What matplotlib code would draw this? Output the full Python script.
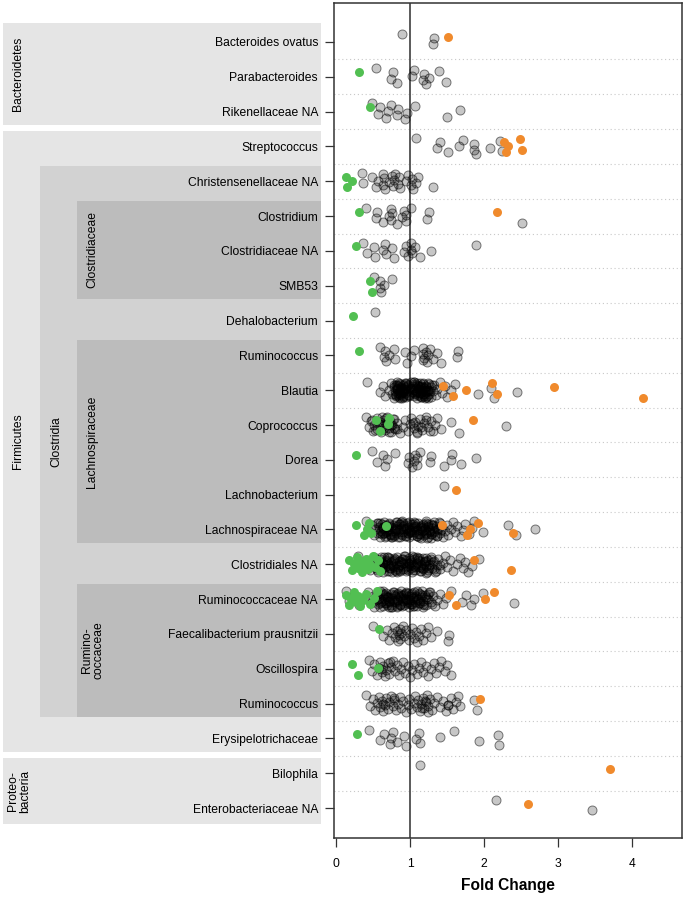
import matplotlib
matplotlib.use("Agg")
import matplotlib.pyplot as plt
import matplotlib.transforms as mtransforms
from matplotlib.patches import Rectangle

plt.rcParams['font.family'] = ['Liberation Sans', 'DejaVu Sans']

# rows, top to bottom
taxa = ["Bacteroides ovatus", "Parabacteroides", "Rikenellaceae NA",
        "Streptococcus", "Christensenellaceae NA", "Clostridium",
        "Clostridiaceae NA", "SMB53", "Dehalobacterium", "Ruminococcus",
        "Blautia", "Coprococcus", "Dorea", "Lachnobacterium",
        "Lachnospiraceae NA", "Clostridiales NA", "Ruminococcaceae NA",
        "Faecalibacterium prausnitzii", "Oscillospira", "Ruminococcus",
        "Erysipelotrichaceae", "Bilophila", "Enterobacteriaceae NA"]

# fold changes, not significant (grey)
b_ovatus = [0.89, 1.31, 1.33]
parabact = [0.54, 0.74, 0.77, 0.82, 1.03, 1.05, 1.18, 1.19, 1.21, 1.26, 1.39, 1.48]
rikenell = [0.49, 0.57, 0.59, 0.68, 0.70, 0.74, 0.82, 0.84, 0.93, 0.96, 1.07, 1.50, 1.68]
strepto = [1.08, 1.37, 1.40, 1.52, 1.66, 1.71, 1.86, 1.87, 1.89, 2.08, 2.22, 2.24]
christ = [0.35, 0.37, 0.49, 0.54, 0.57, 0.63, 0.64, 0.65, 0.66, 0.72, 0.76, 0.77,
          0.78, 0.80, 0.84, 0.85, 0.87, 0.94, 0.97, 1.02, 1.03, 1.04, 1.08, 1.11, 1.31]
clostridium = [0.41, 0.54, 0.56, 0.64, 0.71, 0.74, 0.75, 0.76, 0.82, 0.89, 0.92,
               0.94, 0.95, 1.01, 1.23, 1.26, 2.52]
clostr_na = [0.36, 0.42, 0.51, 0.53, 0.63, 0.66, 0.68, 0.76, 0.78, 0.92, 0.95,
             0.97, 1.01, 1.02, 1.03, 1.07, 1.14, 1.28, 1.89]
smb53 = [0.52, 0.59, 0.60, 0.61, 0.65, 0.76]
dehalo = [0.53]
rumino_l = [0.59, 0.65, 0.66, 0.67, 0.72, 0.79, 0.80, 0.93, 0.96, 1.02, 1.05, 1.17,
            1.18, 1.18, 1.19, 1.22, 1.23, 1.24, 1.27, 1.31, 1.37, 1.42, 1.63, 1.65]
blautia = [0.42, 0.60, 0.64, 0.66, 0.71, 0.74, 0.76, 0.78, 0.79, 0.80, 0.81, 0.81,
           0.82, 0.83, 0.84, 0.84, 0.85, 0.86, 0.86, 0.87, 0.88, 0.89, 0.89, 0.90,
           0.91, 0.92, 0.93, 0.93, 0.94, 0.95, 0.96, 0.97, 0.98, 1.00, 1.01, 1.03,
           1.04, 1.05, 1.06, 1.06, 1.07, 1.08, 1.09, 1.10, 1.10, 1.11, 1.12, 1.13,
           1.14, 1.14, 1.15, 1.16, 1.17, 1.18, 1.19, 1.20, 1.21, 1.22, 1.23, 1.24,
           1.25, 1.26, 1.28, 1.29, 1.31, 1.33, 1.35, 1.37, 1.40, 1.43, 1.47, 1.50,
           1.55, 1.61, 1.92, 2.10, 2.14, 2.45,
           0.79, 0.81, 0.83, 0.85, 0.87, 0.88, 0.90, 0.92, 0.95, 0.97, 1.02, 1.05,
           1.08, 1.11, 1.13, 1.15, 1.17, 1.19, 1.21, 1.24, 1.27, 1.30, 0.84, 0.89,
           0.94, 1.07, 1.12, 1.16, 1.20, 1.26, 0.80, 0.83, 0.86, 0.91, 0.96, 0.99,
           1.03, 1.09, 1.13, 1.18, 1.22, 1.25, 0.82, 0.87, 0.93, 1.06, 1.10, 1.15,
           1.19, 1.23]
coproc = [0.40, 0.44, 0.47, 0.50, 0.52, 0.55, 0.56, 0.59, 0.61, 0.63, 0.64, 0.66,
          0.68, 0.69, 0.71, 0.73, 0.74, 0.76, 0.78, 0.80, 0.83, 0.86, 0.90, 0.93,
          0.97, 1.00, 1.02, 1.05, 1.07, 1.09, 1.11, 1.13, 1.16, 1.19, 1.22, 1.25,
          1.28, 1.31, 1.34, 1.37, 1.42, 1.55, 1.66, 2.30,
          0.48, 0.53, 0.58, 0.62, 0.65, 0.70, 0.72, 0.75, 0.77, 0.82, 1.04, 1.10,
          1.15, 1.21, 1.27, 0.60, 0.67, 0.79]
dorea = [0.48, 0.56, 0.64, 0.66, 0.69, 0.80, 0.97, 0.99, 1.03, 1.05, 1.07, 1.09,
         1.10, 1.14, 1.27, 1.29, 1.46, 1.55, 1.57, 1.69, 1.89]
lachnobact = [1.46]
lachno_na = [0.41, 0.45, 0.48, 0.51, 0.53, 0.55, 0.56, 0.58, 0.59, 0.61, 0.62, 0.62,
             0.64, 0.65, 0.67, 0.68, 0.68, 0.70, 0.71, 0.73, 0.74, 0.74, 0.76, 0.77,
             0.78, 0.80, 0.81, 0.81, 0.83, 0.84, 0.85, 0.86, 0.88, 0.88, 0.89, 0.91,
             0.92, 0.93, 0.94, 0.96, 0.97, 0.98, 0.99, 1.00, 1.02, 1.03, 1.04, 1.05,
             1.06, 1.08, 1.09, 1.10, 1.11, 1.12, 1.14, 1.15, 1.16, 1.17, 1.19, 1.20,
             1.21, 1.22, 1.24, 1.25, 1.26, 1.28, 1.29, 1.30, 1.32, 1.33, 1.35, 1.36,
             1.38, 1.40, 1.41, 1.43, 1.45, 1.47, 1.50, 1.52, 1.55, 1.58, 1.61, 1.64,
             1.69, 1.72, 1.75, 1.80, 1.84, 1.87, 1.98, 2.32, 2.43, 2.69,
             0.57, 0.60, 0.63, 0.66, 0.69, 0.72, 0.75, 0.79, 0.82, 0.87, 0.90, 0.95,
             1.01, 1.07, 1.13, 1.18, 1.23, 1.27, 1.31, 1.34, 1.37, 1.39, 0.64, 0.71,
             0.86, 0.99, 1.04, 1.11, 1.16, 1.21, 1.26, 1.30, 0.79, 0.92,
             0.60, 0.65, 0.70, 0.76, 0.80, 0.85, 0.89, 0.94, 0.98, 1.02, 1.06, 1.10,
             1.14, 1.18, 1.22, 1.25, 1.29, 1.33, 0.67, 0.73, 0.83, 0.91, 0.97, 1.05,
             1.12, 1.19, 1.24, 1.28, 0.62, 0.88, 1.00, 1.15, 1.36, 1.42]
clostridiales = [0.30, 0.36, 0.42, 0.46, 0.50, 0.52, 0.54, 0.56, 0.57, 0.59, 0.60,
                 0.62, 0.63, 0.65, 0.66, 0.67, 0.69, 0.70, 0.72, 0.73, 0.74, 0.76,
                 0.77, 0.78, 0.80, 0.81, 0.82, 0.84, 0.85, 0.86, 0.87, 0.89, 0.90,
                 0.91, 0.93, 0.94, 0.95, 0.97, 0.98, 0.99, 1.01, 1.02, 1.03, 1.05,
                 1.06, 1.07, 1.09, 1.10, 1.11, 1.13, 1.14, 1.15, 1.17, 1.18, 1.19,
                 1.21, 1.22, 1.24, 1.25, 1.27, 1.28, 1.30, 1.32, 1.34, 1.36, 1.38,
                 1.41, 1.44, 1.47, 1.50, 1.54, 1.58, 1.63, 1.68, 1.71, 1.75, 1.79,
                 1.84, 1.93,
                 0.55, 0.58, 0.61, 0.64, 0.68, 0.71, 0.75, 0.79, 0.83, 0.88, 0.92,
                 0.96, 1.00, 1.04, 1.08, 1.12, 1.16, 1.20, 1.23, 1.26, 1.29, 1.33,
                 0.62, 0.70, 0.78, 0.86, 0.94, 1.02, 1.10, 1.18, 0.66, 0.82, 0.98,
                 0.57, 0.60, 0.64, 0.69, 0.73, 0.77, 0.81, 0.85, 0.90, 0.95, 0.99,
                 1.03, 1.07, 1.11, 1.15, 1.19, 1.22, 1.26, 1.31, 0.63, 0.72, 0.80,
                 0.87, 0.93, 1.05, 1.13, 1.21, 1.35, 1.40]
ruminococcaceae = [0.13, 0.18, 0.24, 0.31, 0.38, 0.43, 0.47, 0.50, 0.52, 0.54, 0.55,
                   0.57, 0.58, 0.60, 0.61, 0.63, 0.64, 0.66, 0.67, 0.68, 0.70, 0.71,
                   0.72, 0.74, 0.75, 0.76, 0.78, 0.79, 0.80, 0.82, 0.83, 0.84, 0.86,
                   0.87, 0.88, 0.90, 0.91, 0.92, 0.94, 0.95, 0.96, 0.98, 0.99, 1.00,
                   1.02, 1.03, 1.04, 1.06, 1.07, 1.08, 1.10, 1.11, 1.12, 1.14, 1.15,
                   1.17, 1.18, 1.20, 1.22, 1.24, 1.26, 1.28, 1.31, 1.34, 1.37, 1.41,
                   1.45, 1.49, 1.56, 1.70, 1.76, 1.82, 1.86, 1.99, 2.41,
                   0.56, 0.59, 0.62, 0.65, 0.69, 0.73, 0.77, 0.81, 0.85, 0.89, 0.93,
                   0.97, 1.01, 1.05, 1.09, 1.13, 1.16, 1.19, 1.23, 1.27, 0.60, 0.68,
                   0.76, 0.84, 0.92, 1.00, 1.08, 1.16, 0.72, 0.88, 1.04,
                   0.58, 0.62, 0.66, 0.70, 0.74, 0.78, 0.82, 0.86, 0.90, 0.94, 0.98,
                   1.02, 1.06, 1.10, 1.14, 1.18, 1.21, 0.64, 0.71, 0.79, 0.87, 0.95,
                   1.03, 1.12, 0.69, 0.83, 0.97, 1.25, 1.30]
faecali = [0.50, 0.64, 0.69, 0.72, 0.76, 0.78, 0.80, 0.82, 0.84, 0.85, 0.86, 0.87,
           0.88, 0.90, 0.92, 0.95, 0.98, 1.00, 1.03, 1.06, 1.08, 1.10, 1.12, 1.15,
           1.18, 1.21, 1.25, 1.28, 1.36, 1.51, 1.53]
oscillo = [0.45, 0.49, 0.52, 0.55, 0.58, 0.60, 0.62, 0.64, 0.66, 0.68, 0.70, 0.72,
           0.75, 0.77, 0.80, 0.83, 0.85, 0.88, 0.91, 0.93, 0.97, 1.00, 1.03, 1.06,
           1.09, 1.12, 1.15, 1.18, 1.22, 1.25, 1.28, 1.32, 1.35, 1.39, 1.42, 1.47,
           1.50, 1.55, 0.61, 0.73]
rumino_r = [0.41, 0.46, 0.50, 0.53, 0.56, 0.58, 0.60, 0.62, 0.64, 0.66, 0.68, 0.70,
            0.72, 0.75, 0.77, 0.79, 0.81, 0.84, 0.86, 0.88, 0.91, 0.94, 0.97, 0.99,
            1.02, 1.05, 1.07, 1.09, 1.11, 1.13, 1.15, 1.17, 1.19, 1.21, 1.23, 1.25,
            1.27, 1.30, 1.33, 1.36, 1.40, 1.44, 1.48, 1.51, 1.55, 1.58, 1.62, 1.65,
            1.68, 1.86, 1.90, 0.63, 0.78, 1.16, 1.20, 1.24, 1.52]
erysipelo = [0.44, 0.59, 0.65, 0.73, 0.75, 0.77, 0.82, 0.92, 0.95, 1.08, 1.12, 1.14,
             1.41, 1.60, 1.93, 2.19, 2.20]
bilophila = [1.14]
entero = [2.16, 3.46]

ns_fc = [b_ovatus, parabact, rikenell, strepto, christ, clostridium, clostr_na,
         smb53, dehalo, rumino_l, blautia, coproc, dorea, lachnobact, lachno_na,
         clostridiales, ruminococcaceae, faecali, oscillo, rumino_r, erysipelo,
         bilophila, entero]

# significantly decreased (green)
down_fc = [[], [0.31], [0.46], [], [0.13, 0.15, 0.21], [0.31], [0.27],
           [0.46, 0.49], [0.23], [0.31], [], [0.54, 0.60, 0.70, 0.72], [0.27], [],
           [0.27, 0.38, 0.42, 0.45, 0.47, 0.68],
           [0.18, 0.22, 0.25, 0.28, 0.30, 0.33, 0.35, 0.38, 0.40, 0.43, 0.45, 0.50,
            0.53, 0.57, 0.60],
           [0.13, 0.17, 0.20, 0.24, 0.27, 0.30, 0.33, 0.37, 0.40, 0.46, 0.52, 0.55],
           [0.58], [0.22, 0.30, 0.57], [], [0.28], [], []]

# significantly increased (orange)
up_fc = [[1.52], [], [], [2.27, 2.30, 2.33, 2.49, 2.51], [], [2.17], [], [], [], [],
         [1.45, 1.58, 1.76, 2.11, 2.18, 2.94, 4.15], [1.85], [], [1.62],
         [1.43, 1.77, 1.81, 1.92, 2.39], [1.86, 2.36], [1.53, 1.62, 2.02, 2.13],
         [], [], [1.94], [], [3.70], [2.59]]

# (label, first row, last row, left edge px, shade, label x px)
groups = [("Bacteroidetes", 0, 2, 3, "#e5e5e5", 18),
          ("Firmicutes", 3, 20, 3, "#e5e5e5", 18),
          ("Proteo-\nbacteria", 21, 22, 3, "#e5e5e5", 19),
          ("Clostridia", 4, 19, 40, "#d2d2d2", 56),
          ("Clostridiaceae", 5, 7, 77, "#bcbcbc", 92),
          ("Lachnospiraceae", 9, 14, 77, "#bcbcbc", 92),
          ("Rumino-\ncoccaceae", 16, 19, 77, "#bcbcbc", 93)]

W, H = 685, 898
fig = plt.figure(figsize=(W / 100, H / 100), dpi=100)
ax = fig.add_axes([334 / W, 1 - 838 / H, 348 / W, 835 / H])


def jitter(k, phase=0.0):
    return (((k + phase) * 0.618034) % 1 - 0.5) * 0.48


for i in range(len(taxa)):
    xs = ns_fc[i]
    ax.scatter(xs, [i + jitter(k) for k in range(len(xs))], s=42,
               facecolor=(0, 0, 0, 0.22), edgecolor=(0, 0, 0, 0.5),
               linewidth=0.7, zorder=3)
for i in range(len(taxa)):
    xs = down_fc[i]
    ax.scatter(xs, [i + jitter(k, 0.37) for k in range(len(xs))], s=42,
               color="#52bf52", linewidth=0, zorder=4)
    xs = up_fc[i]
    ax.scatter(xs, [i + jitter(k, 0.37) for k in range(len(xs))], s=42,
               color="#f08a2c", linewidth=0, zorder=4)

for i in range(len(taxa) - 1):
    ax.axhline(i + 0.5, color="#c8c8c8", lw=0.8, ls=(0, (1, 2.5)), zorder=1)
ax.axvline(1, color="#4d4d4d", lw=1.3, zorder=2)

ax.set_xlim(-0.027, 4.676)
ax.set_ylim(22.86, -1.12)
ax.set_xticks([0, 1, 2, 3, 4])
ax.set_xticklabels(["0", "1", "2", "3", "4"], fontsize=8.7)
ax.set_yticks(range(len(taxa)))
ax.set_yticklabels(taxa, fontsize=8.7)
ax.tick_params(axis="y", length=6.5, pad=5, width=0.9, color="#333333")
ax.tick_params(axis="x", length=6.5, pad=8, width=0.9, color="#333333")
ax.set_xlabel("Fold Change", fontsize=11.2, fontweight="bold", labelpad=6)
for sp in ax.spines.values():
    sp.set_color("#333333")
    sp.set_linewidth(1.1)

# taxonomy boxes left of the labels
trans = mtransforms.blended_transform_factory(fig.transFigure, ax.transData)
for name, r0, r1, xl, shade, tx in groups:
    top = r0 - (0.54 if r0 == 0 else 0.44)
    bot = r1 + (0.47 if r1 == len(taxa) - 1 else 0.38)
    ax.add_patch(Rectangle((xl / W, top), (321 - xl) / W, bot - top,
                           transform=trans, facecolor=shade, edgecolor="none",
                           clip_on=False, zorder=0.5))
    ax.text(tx / W, (top + bot) / 2, name, transform=trans, rotation=90,
            ha="center", va="center", multialignment="center",
            fontsize=8.7, zorder=0.6, clip_on=False, linespacing=1.0)

fig.savefig("out.png", dpi=100)
